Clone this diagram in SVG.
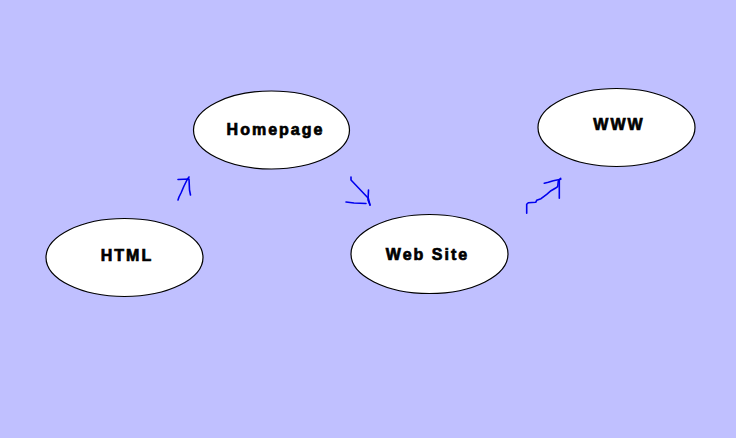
<svg xmlns="http://www.w3.org/2000/svg" width="736" height="438" viewBox="0 0 736 438">
<style>
.n ellipse{fill:#fff;stroke:#000;stroke-width:1.2}
.n text{font-family:"Liberation Sans",Arial,sans-serif;font-weight:bold;font-size:16px;letter-spacing:2px;text-anchor:middle;fill:#000;stroke:#000;stroke-width:0.7}
.c path{fill:none;stroke:#0000ee;stroke-width:1.6;stroke-linejoin:round;stroke-linecap:round}
</style>
<rect width="736" height="438" fill="#c0c0ff"/>
<g id="html" class="n"><ellipse cx="124.5" cy="257.5" rx="78.5" ry="39"/><text x="127" y="260.5">HTML</text></g>
<g id="homepage" class="n"><ellipse cx="271.5" cy="130" rx="78" ry="39"/><text x="275.5" y="134.5">Homepage</text></g>
<g id="website" class="n"><ellipse cx="429.5" cy="254" rx="78.5" ry="39.5"/><text x="427.5" y="259.5">Web Site</text></g>
<g id="www" class="n"><ellipse cx="616.5" cy="127.5" rx="78.5" ry="39"/><text x="619" y="130">WWW</text></g>
<g id="connectors" class="c">
<path d="M178,200 L179,197 L181,193 L184,186 L187,180 L189,177"/>
<path d="M178,179.5 L189,179 L189.5,190 L190.5,195"/>
<path d="M351,177 L351,180 L368.3,198.3 L370,205"/>
<path d="M346,202 L354,203 L366,203.5"/>
<path d="M368.5,190 L368,200 L370,205"/>
<path d="M526.7,213.3 L526.7,204.3 L528.3,202.7 L535.7,202.3 L536.7,200.3 L541,198.7 L546.7,194.3 L551,190.7 L555.7,188 L557.7,186.7 L558.3,181 L560.7,178.3"/>
<path d="M544.3,183.3 L548.3,182.3 L553.3,180.7 L560.7,179.3"/>
<path d="M559.3,180 L559.3,198.3"/>
</g>
</svg>
